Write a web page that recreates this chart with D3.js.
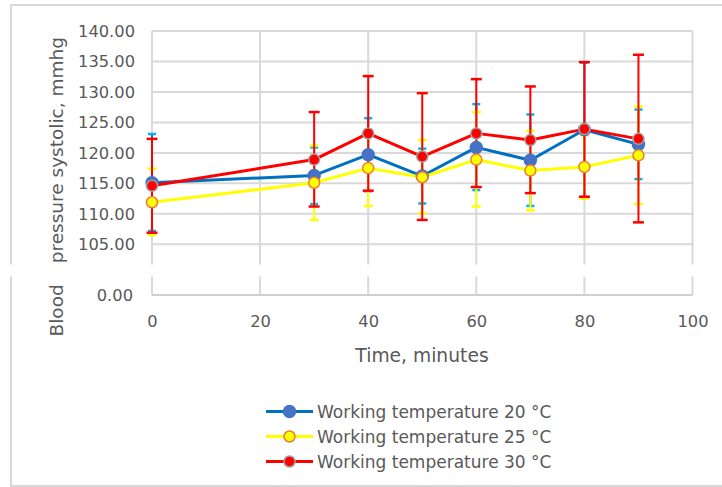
<!DOCTYPE html>
<html>
<head>
<meta charset="utf-8">
<script src="https://d3js.org/d3.v7.min.js"></script>
<style>
  html, body { margin: 0; padding: 0; background: #fff; }
  svg text { font-family: "DejaVu Sans", sans-serif; fill: #595959; }
</style>
</head>
<body>
<div id="chart"></div>
<script>
// Data ----------------------------------------------------------------------->

const times = [0, 30, 40, 50, 60, 70, 80, 90];

const blueMean = [115.1, 116.3, 119.7, 116.2, 120.9, 118.8, 123.8, 121.4];
const blueLow  = [107.2, 111.6, 113.7, 111.7, 113.9, 111.3, 112.8, 115.7];
const blueHigh = [123.1, 120.9, 125.7, 120.7, 128.0, 126.3, 134.8, 127.1];

const yellowMean = [111.9, 115.1, 117.5, 116.0, 118.9, 117.1, 117.7, 119.6];
const yellowLow  = [106.5, 109.0, 111.3, 110.1, 111.2, 110.6, 112.5, 111.6];
const yellowHigh = [117.4, 121.2, 123.8, 122.1, 126.7, 123.6, 122.9, 127.6];

const redMean = [114.6, 118.9, 123.2, 119.4, 123.2, 122.1, 123.9, 122.3];
const redLow  = [106.9, 111.2, 113.8, 109.0, 114.4, 113.4, 112.8, 108.6];
const redHigh = [122.3, 126.7, 132.6, 129.8, 132.1, 130.9, 134.9, 136.1];

const seriesNames = [
  'Working temperature 20 °C',
  'Working temperature 25 °C',
  'Working temperature 30 °C'
];

const xTicks = [0, 20, 40, 60, 80, 100];
const yTopTicks = [105, 110, 115, 120, 125, 130, 135, 140];
const yLowTicks = [0];

// Setup ---------------------------------------------------------------------->

const width = 722, height = 487;
const svg = d3.select('#chart')
  .append('svg')
    .attr('width', width)
    .attr('height', height);

// broken y axis: upper part 105-140, lower part near 0
const x = d3.scaleLinear().domain([0, 100]).range([152, 692.5]);
const yTop = d3.scaleLinear().domain([105, 140]).range([244.3, 31]);
const yLow = d3.scaleLinear().domain([0, 5]).range([295, 264.5]);
const breakTop = 264.5, breakBottom = 276.5;

const grid_col = '#d9d9d9';

// outer chart border
svg.append('rect')
  .attr('x', 11).attr('y', 5)
  .attr('width', 730).attr('height', 481)
  .attr('fill', 'none')
  .attr('stroke', grid_col)
  .attr('stroke-width', 2);

// Gridlines ------------------------------------------------------------------>

const grid = svg.append('g');
grid.selectAll('line.h')
  .data(yTopTicks)
  .join('line')
    .attr('class', 'h')
    .attr('x1', x(0)).attr('x2', x(100))
    .attr('y1', d => yTop(d)).attr('y2', d => yTop(d))
    .attr('stroke', grid_col)
    .attr('stroke-width', 2);
grid.selectAll('line.v')
  .data(xTicks)
  .join('line')
    .attr('class', 'v')
    .attr('x1', d => x(d)).attr('x2', d => x(d))
    .attr('y1', yTop(140)).attr('y2', yLow(0))
    .attr('stroke', grid_col)
    .attr('stroke-width', 2);
grid.append('line')
  .attr('x1', x(0)).attr('x2', x(100))
  .attr('y1', yLow(0)).attr('y2', yLow(0))
  .attr('stroke', '#cfcfcf')
  .attr('stroke-width', 2);

// Axes ----------------------------------------------------------------------->

const fmt = d3.format('.2f');
const yAxisTop = svg.append('g')
  .attr('transform', 'translate(' + x(0) + ',0)')
  .call(d3.axisLeft(yTop).tickValues(yTopTicks).tickFormat(fmt).tickSize(0).tickPadding(17));
const yAxisLow = svg.append('g')
  .attr('transform', 'translate(' + (x(0) - 2) + ',0)')
  .call(d3.axisLeft(yLow).tickValues(yLowTicks).tickFormat(fmt).tickSize(0).tickPadding(17));
const xAxis = svg.append('g')
  .attr('transform', 'translate(0,' + yLow(0) + ')')
  .call(d3.axisBottom(x).tickValues(xTicks).tickSize(0).tickPadding(20.5));

[yAxisTop, yAxisLow, xAxis].forEach(a => {
  a.select('.domain').remove();
  a.selectAll('text')
    .style('font-family', '"DejaVu Sans", sans-serif')
    .style('font-size', '16.3px')
    .attr('fill', '#595959');
});

// Axis titles
const yTitle = svg.append('text')
  .attr('transform', 'translate(62.5,336.5) rotate(-90)')
  .style('font-size', '18.5px');
yTitle.append('tspan').text('Blood');
yTitle.append('tspan').attr('dx', 21).text('pressure systolic, mmhg');

svg.append('text')
  .attr('x', 422).attr('y', 362)
  .attr('text-anchor', 'middle')
  .style('font-size', '18.7px')
  .text('Time, minutes');

// white band for the axis break
svg.append('rect')
  .attr('x', 0).attr('y', breakTop)
  .attr('width', width).attr('height', breakBottom - breakTop)
  .attr('fill', '#fff');

// Series --------------------------------------------------------------------->

const series = [
  { name: seriesNames[0], mean: blueMean, low: blueLow, high: blueHigh,
    line: '#0070c0', fill: '#4472c4', stroke: '#4472c4', cap: '#00b0f0', bar: '#0070c0', r: 6, capW: 8 },
  { name: seriesNames[1], mean: yellowMean, low: yellowLow, high: yellowHigh,
    line: '#ffff00', fill: '#ffff00', stroke: '#ed7d31', cap: '#ffff00', bar: '#ffff00', r: 5.5, capW: 9 },
  { name: seriesNames[2], mean: redMean, low: redLow, high: redHigh,
    line: '#ff0000', fill: '#ff0000', stroke: '#a0a0a0', cap: '#ff0000', bar: '#ff0000', r: 5.5, capW: 11 }
];

// error bars
series.forEach(s => {
  const g = svg.append('g');
  const pts = times.map((t, i) => ({ t: t, lo: s.low[i], hi: s.high[i] }));
  g.selectAll('line.bar')
    .data(pts)
    .join('line')
      .attr('x1', d => x(d.t)).attr('x2', d => x(d.t))
      .attr('y1', d => yTop(d.lo)).attr('y2', d => yTop(d.hi))
      .attr('stroke', s.bar)
      .attr('stroke-width', 2);
  ['lo', 'hi'].forEach(k => {
    g.selectAll('line.cap-' + k)
      .data(pts)
      .join('line')
        .attr('x1', d => x(d.t) - s.capW / 2).attr('x2', d => x(d.t) + s.capW / 2)
        .attr('y1', d => yTop(d[k])).attr('y2', d => yTop(d[k]))
        .attr('stroke', s.cap)
        .attr('stroke-width', 2.5);
  });
});

// lines
const line = d3.line()
  .x(d => x(d[0]))
  .y(d => yTop(d[1]));
series.forEach(s => {
  svg.append('path')
    .datum(times.map((t, i) => [t, s.mean[i]]))
    .attr('d', line)
    .attr('fill', 'none')
    .attr('stroke', s.line)
    .attr('stroke-width', 3)
    .attr('stroke-linejoin', 'round');
});

// markers
series.forEach(s => {
  svg.append('g')
    .selectAll('circle')
    .data(times.map((t, i) => [t, s.mean[i]]))
    .join('circle')
      .attr('cx', d => x(d[0]))
      .attr('cy', d => yTop(d[1]))
      .attr('r', s.r)
      .attr('fill', s.fill)
      .attr('stroke', s.stroke)
      .attr('stroke-width', 1.5);
});

// Legend --------------------------------------------------------------------->

const legend = svg.append('g')
  .selectAll('g')
  .data(series)
  .join('g')
    .attr('transform', (d, i) => 'translate(0,' + (411.5 + i * 25) + ')');
legend.append('line')
  .attr('x1', 266).attr('x2', 313)
  .attr('stroke', d => d.line)
  .attr('stroke-width', 3);
legend.append('circle')
  .attr('cx', 289.5)
  .attr('r', d => d.r)
  .attr('fill', d => d.fill)
  .attr('stroke', d => d.stroke)
  .attr('stroke-width', 1.5);
legend.append('text')
  .attr('x', 317)
  .attr('y', 6.5)
  .style('font-size', '17px')
  .text(d => d.name);
</script>
</body>
</html>
